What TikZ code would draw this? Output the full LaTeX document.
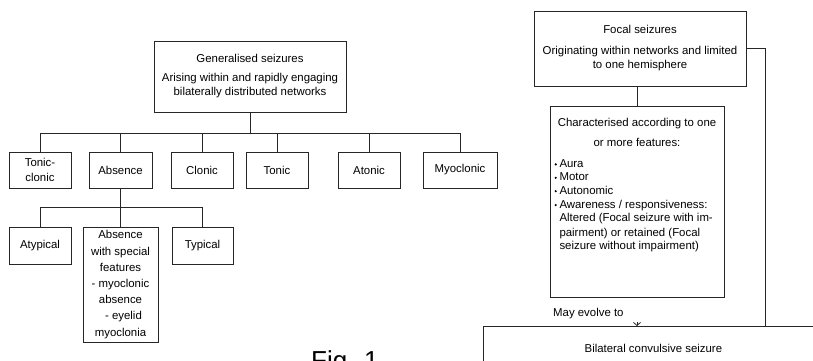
\documentclass[tikz,border=0pt]{standalone}
\usepackage{fontspec}
\setmainfont{Liberation Sans}
\usetikzlibrary{arrows.meta,calc}
\newcommand{\mybul}{\hspace*{3pt}\makebox[5pt][l]{\raisebox{2pt}{\tikz\fill (0,0) circle (1.2pt);}}}
\begin{document}
\begin{tikzpicture}[x=1pt,y=-1pt,
  box/.style={draw=black!85,line width=0.8pt,inner sep=1pt,align=center,font=\fontsize{11.4}{14.5}\selectfont},
  wire/.style={draw=black!85,line width=0.8pt},
  lbl/.style={inner sep=0pt,font=\fontsize{11.4}{14.5}\selectfont}]
\useasboundingbox (0,0) rectangle (813,361);
% generalised
\node[box,minimum width=192,minimum height=71] (gen) at (250,76.5)
  {Generalised seizures\\[4pt]Arising within and rapidly engaging\\bilaterally distributed networks};
\node[box,minimum width=62,minimum height=36] (tc) at (40,170) {Tonic-\\clonic};
\node[box,minimum width=63,minimum height=36] (abs) at (120.5,170) {Absence};
\node[box,minimum width=62,minimum height=36] (clo) at (202,170) {Clonic};
\node[box,minimum width=62,minimum height=36] (ton) at (277,170) {Tonic};
\node[box,minimum width=62,minimum height=36] (ato) at (369,170) {Atonic};
\node[box,minimum width=74,minimum height=36] (myo) at (460,170) {Myoclonic};
\coordinate (bus) at (0,133);
\draw[wire] (gen.south) -- (gen.south |- bus);
\draw[wire] (tc.north) -- (tc.north |- bus) -- (myo.north |- bus) -- (myo.north);
\foreach \n in {abs,clo,ton,ato} \draw[wire] (\n.north) -- (\n.north |- bus);
% absence sub
\node[box,minimum width=62,minimum height=37] (aty) at (40,245.5) {\raisebox{-1pt}{Atypical}};
\node[box,minimum width=75,minimum height=115,font=\fontsize{11.4}{16.2}\selectfont] (spec) at (120.5,284.5)
  {Absence\\with special\\features\\- myoclonic\\absence\\\hspace*{6pt}- eyelid\\myoclonia};
\node[box,minimum width=61,minimum height=37] (typ) at (202.5,245.5) {\raisebox{2pt}{Typical}};
\coordinate (sbus) at (0,207);
\draw[wire] (abs.south) -- (abs.south |- sbus);
\draw[wire] (aty.north) -- (aty.north |- sbus) -- (typ.north |- sbus) -- (typ.north);
\draw[wire] (spec.north) -- (spec.north |- sbus);
% focal
\node[box,minimum width=212,minimum height=75] (foc) at (640,48.5)
  {Focal seizures\\[6pt]Originating within networks and limited\\to one hemisphere};
\node[box,minimum width=174,minimum height=191,anchor=north,inner sep=0pt] (char) at (637,106)
  {\begin{minipage}[t][189pt][t]{171pt}\fontsize{11.4}{19.5}\selectfont
   \vspace{11pt}\centering Characterised according to one\\or more features:\par
   \vspace{8pt}\raggedright\fontsize{11.4}{13.4}\selectfont
   \mybul Aura\\
   \mybul Motor\\
   \mybul Autonomic\\[0.5pt]
   \mybul Awareness / responsiveness:\\
   \hspace*{8pt}Altered (Focal seizure with im-\\[1pt]
   \hspace*{8pt}pairment) or retained (Focal\\
   \hspace*{8pt}seizure without impairment)
   \end{minipage}};
\draw[wire] (foc.south -| char.north) -- (char.north);
% bilateral
\node[box,minimum width=340,minimum height=44,anchor=north west] (bil) at (483,326) {Bilateral convulsive seizure};
\node[lbl,anchor=base west] (may) at (553,316) {May evolve to};
\coordinate (rx) at (765,0);
\draw[wire] (foc.east) -| (rx |- bil.north);
\coordinate (tipstart) at ($(char.south |- bil.north)+(0,-4)$);
\draw[wire,-{Straight Barb[length=3pt,width=7pt]}] (tipstart) -- (char.south |- bil.north);
% figure label
\node[inner sep=0pt,anchor=base west,font=\fontsize{26}{26}\selectfont] (fig) at (311,369) {Fig. 1};
\end{tikzpicture}
\end{document}
